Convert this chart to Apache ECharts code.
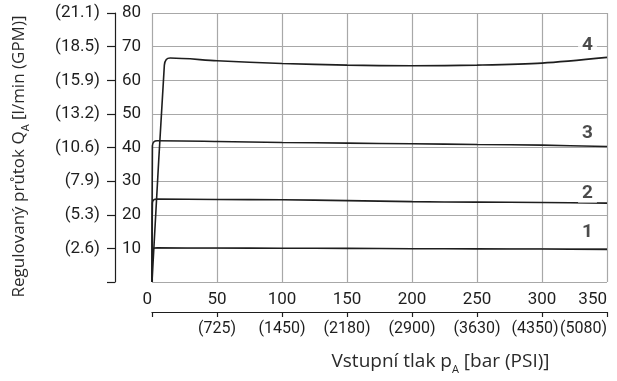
<!DOCTYPE html>
<html>
<head>
<meta charset="utf-8">
<script src="https://cdn.jsdelivr.net/npm/echarts@6/dist/echarts.min.js"></script>
<style>
  html, body { margin: 0; padding: 0; background: #fff; }
  #chart { width: 617px; height: 381px; }
</style>
</head>
<body>
<div id="chart"></div>
<script>
// Flow axis (l/min) with matching GPM values
const flowMax = 80;
const flowStep = 10;
const gpmLabels = ['', '(2.6)', '(5.3)', '(7.9)', '(10.6)', '(13.2)', '(15.9)', '(18.5)', '(21.1)'];

// Inlet pressure axis (bar) with matching PSI values
const pressureMax = 350;
const pressureStep = 50;
const psiLabels = ['', '(725)', '(1450)', '(2180)', '(2900)', '(3630)', '(4350)', '(5080)'];

// Regulated flow curves: [inlet pressure bar, flow l/min]
const curve1 = [[0, 0], [0.5, 9.3], [1.8, 10.1], [4, 10.15], [50, 10.1], [100, 10.05], [150, 10.0], [200, 9.9], [250, 9.85], [300, 9.8], [350, 9.7]];
const curve2 = [[0, 0], [0.3, 23.5], [1.5, 24.5], [4, 24.65], [50, 24.55], [100, 24.45], [150, 24.2], [200, 23.9], [250, 23.75], [300, 23.65], [350, 23.45]];
const curve3 = [[0, 0], [0.3, 40.5], [1.5, 41.7], [4, 42.0], [50, 41.8], [100, 41.5], [150, 41.3], [200, 41.1], [250, 40.9], [300, 40.7], [350, 40.3]];
const curve4 = [[0, 0], [9.5, 64.5], [11, 66.2], [14, 66.6], [50, 65.8], [100, 65.0], [150, 64.5], [200, 64.3], [250, 64.5], [300, 65.1], [350, 66.8]];

// Curve numbers and where they sit: [pressure, flow, text]
const curveTags = [[335, 14.8, '1'], [335, 26.4, '2'], [335, 44.2, '3'], [335, 70.3, '4']];

const tickFont = 'Roboto, sans-serif';
const titleFont = 'Open Sans, Noto Sans, sans-serif';
const ink = '#1e1e1e';
const gridGrey = '#a8a8a8';

const subRich = {
  sub: { fontSize: 11, lineHeight: 10, verticalAlign: 'bottom', fontFamily: titleFont, color: '#2a2a2a' }
};

const chart = echarts.init(document.getElementById('chart'), null, { renderer: 'canvas' });

const lineStyle = { color: ink, width: 1.6 };
function curveSeries(data) {
  return {
    type: 'line',
    data: data,
    showSymbol: false,
    smooth: 0.3,
    lineStyle: lineStyle,
    silent: true,
    z: 3
  };
}

chart.setOption({
  animation: false,
  backgroundColor: '#fff',
  grid: { left: 152, right: 10, top: 13, bottom: 99, containLabel: false, outerBoundsMode: 'none' },
  xAxis: [
    {
      type: 'value', min: 0, max: pressureMax, interval: pressureStep,
      position: 'bottom', offset: 30,
      axisLine: { show: true, onZero: false, lineStyle: { color: ink, width: 1.2 } },
      axisTick: { show: true, length: 5, inside: false, lineStyle: { color: ink, width: 1.2 } },
      axisLabel: {
        inside: true, margin: 4, color: ink, fontFamily: tickFont, fontSize: 17,
        showMinLabel: true, showMaxLabel: true, hideOverlap: false,
        alignMinLabel: 'right', alignMaxLabel: 'right'
      },
      splitLine: { show: true, lineStyle: { color: gridGrey, width: 1.2 } }
    },
    {
      type: 'value', min: 0, max: pressureMax, interval: pressureStep,
      position: 'bottom', offset: 30,
      axisLine: { show: false, onZero: false }, axisTick: { show: false },
      axisLabel: {
        margin: 9, color: ink, fontFamily: tickFont, fontSize: 16,
        showMaxLabel: true, hideOverlap: false, alignMaxLabel: 'right',
        formatter: function (v) {
          const i = Math.round(v / pressureStep);
          // the second-to-last value leans left to leave room for the last one
          return i === psiLabels.length - 2 ? '{lean|' + psiLabels[i] + '}' : psiLabels[i];
        },
        rich: { lean: { fontFamily: tickFont, fontSize: 16, color: ink, padding: [0, 14, 0, 0] } }
      },
      splitLine: { show: false },
      name: 'Vstupní tlak p{sub|A} [bar (PSI)]',
      nameLocation: 'middle', nameGap: 37,
      nameTextStyle: {
        fontFamily: titleFont, fontSize: 19, color: '#2a2a2a', lineHeight: 26,
        padding: [0, 0, 0, 122], rich: subRich
      }
    }
  ],
  yAxis: [
    {
      type: 'value', min: 0, max: flowMax, interval: flowStep,
      position: 'left', offset: 37,
      axisLine: { show: true, onZero: false, lineStyle: { color: ink, width: 1.2 } },
      axisTick: { show: true, length: 8, inside: false, lineStyle: { color: ink, width: 1.2 } },
      axisLabel: {
        inside: true, margin: 7, color: ink, fontFamily: tickFont, fontSize: 17,
        formatter: function (v) { return v === 0 ? '' : String(v); }
      },
      splitLine: { show: true, lineStyle: { color: gridGrey, width: 1.2 } }
    },
    {
      type: 'value', min: 0, max: flowMax, interval: flowStep,
      position: 'left', offset: 37,
      axisLine: { show: false, onZero: false }, axisTick: { show: false },
      axisLabel: {
        margin: 15, color: ink, fontFamily: tickFont, fontSize: 17,
        formatter: function (v) { return gpmLabels[Math.round(v / flowStep)]; }
      },
      splitLine: { show: false },
      name: 'Regulovaný průtok Q{sub|A} [l/min (GPM)]',
      nameLocation: 'middle', nameGap: 84, nameRotate: 90,
      nameTextStyle: {
        fontFamily: titleFont, fontSize: 17, color: '#2a2a2a', lineHeight: 24,
        padding: [0, 18, 0, 0], rich: subRich
      }
    }
  ],
  series: [
    curveSeries(curve1),
    curveSeries(curve2),
    curveSeries(curve3),
    curveSeries(curve4),
    {
      type: 'scatter',
      data: curveTags,
      symbolSize: 0,
      silent: true,
      z: 4,
      label: {
        show: true, position: 'inside',
        formatter: function (p) { return p.value[2]; },
        fontFamily: tickFont, fontWeight: 'bold', fontSize: 19, color: ink,
        backgroundColor: '#fff', padding: [0, 4]
      }
    }
  ]
});
</script>
</body>
</html>
